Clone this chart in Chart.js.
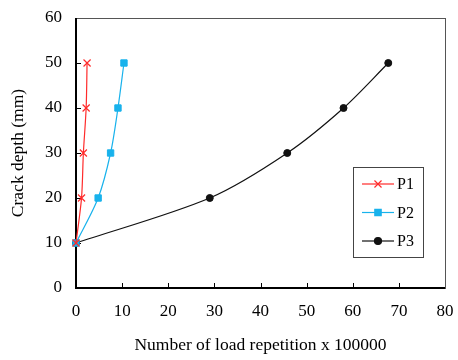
<!DOCTYPE html>
<html>
<head>
<meta charset="utf-8">
<script src="https://cdn.jsdelivr.net/npm/chart.js@4.4.0/dist/chart.umd.min.js"></script>
<style>
  html, body { margin: 0; padding: 0; background: #fff; }
  #wrap { width: 458px; height: 360px; }
</style>
</head>
<body>
<div id="wrap"><canvas id="chart" width="458" height="360"></canvas></div>
<script>
  // Data
  const seriesNames = ['P1', 'P2', 'P3'];
  const crackDepth = [10, 20, 30, 40, 50];
  const p1Reps = [0, 1.2, 1.6, 2.2, 2.4];
  const p2Reps = [0, 4.8, 7.5, 9.1, 10.4];
  const p3Reps = [0, 29, 45.8, 58, 67.7];

  const COLORS = { p1: '#ff2b2b', p2: '#18b2ec', p3: '#111111' };
  const FONT = 'Liberation Serif';

  function toPoints(xs) {
    return xs.map((x, i) => ({ x: x, y: crackDepth[i] }));
  }

  // Inward ticks, frame and the boxed legend inside the plot
  const framePlugin = {
    id: 'frame',
    beforeDatasetsDraw(chart) {
      const ctx = chart.ctx;
      const a = chart.chartArea;
      const xs = chart.scales.x, ys = chart.scales.y;
      ctx.save();
      ctx.strokeStyle = '#000';
      ctx.lineWidth = 1;
      ctx.beginPath();
      xs.ticks.forEach(t => {
        const px = Math.round(xs.getPixelForValue(t.value)) + 0.5;
        ctx.moveTo(px, a.bottom); ctx.lineTo(px, a.bottom - 5);
      });
      ys.ticks.forEach(t => {
        const py = Math.round(ys.getPixelForValue(t.value)) + 0.5;
        ctx.moveTo(a.left, py); ctx.lineTo(a.left + 5, py);
      });
      ctx.stroke();

      ctx.lineWidth = 1;
      ctx.strokeStyle = '#555';
      ctx.strokeRect(a.left + 0.5, a.top + 0.5, a.right - a.left, a.bottom - a.top);
      ctx.lineWidth = 2;
      ctx.strokeStyle = '#000';
      ctx.beginPath();
      ctx.moveTo(a.left, a.top); ctx.lineTo(a.left, a.bottom); ctx.lineTo(a.right, a.bottom);
      ctx.stroke();
      ctx.restore();
    },
    afterDraw(chart) {
      const ctx = chart.ctx;
      ctx.save();
      // legend
      const bx = 353, by = 167, bw = 70, bh = 90;
      ctx.fillStyle = '#fff';
      ctx.fillRect(bx, by, bw, bh);
      ctx.lineWidth = 1;
      ctx.strokeStyle = '#444';
      ctx.strokeRect(bx + 0.5, by + 0.5, bw, bh);
      chart.data.datasets.forEach((ds, i) => {
        const y = by + 17 + i * 28.5;
        ctx.strokeStyle = ds.borderColor;
        ctx.lineWidth = 1.2;
        ctx.beginPath();
        ctx.moveTo(bx + 9, y); ctx.lineTo(bx + 41, y);
        ctx.stroke();
        ctx.fillStyle = ds.pointBackgroundColor;
        ctx.strokeStyle = ds.pointBorderColor;
        Chart.helpers.drawPoint(ctx, {
          pointStyle: ds.pointStyle, radius: ds.pointRadius, borderWidth: 1.2
        }, bx + 25, y);
        ctx.fillStyle = '#000';
        ctx.font = '16px "' + FONT + '"';
        ctx.textBaseline = 'middle';
        ctx.fillText(ds.label, bx + 44, y + 1);
      });
      ctx.restore();
    }
  };

  function noPad(scale) {
    scale.paddingTop = 0;
    scale.paddingBottom = 0;
    scale.paddingLeft = 0;
    scale.paddingRight = 0;
  }

  new Chart(document.getElementById('chart'), {
    type: 'scatter',
    data: {
      datasets: [
        {
          label: seriesNames[0],
          data: toPoints(p1Reps),
          showLine: true,
          clip: false,
          borderColor: COLORS.p1,
          borderWidth: 1.2,
          pointStyle: 'crossRot',
          pointRadius: 5,
          pointBorderWidth: 1.2,
          pointBorderColor: COLORS.p1,
          pointBackgroundColor: COLORS.p1,
          tension: 0.3
        },
        {
          label: seriesNames[1],
          data: toPoints(p2Reps),
          showLine: true,
          clip: false,
          borderColor: COLORS.p2,
          borderWidth: 1.2,
          pointStyle: 'rect',
          pointRadius: 4.5,
          pointBorderWidth: 1,
          pointBorderColor: COLORS.p2,
          pointBackgroundColor: COLORS.p2,
          tension: 0.3
        },
        {
          label: seriesNames[2],
          data: toPoints(p3Reps),
          showLine: true,
          clip: false,
          borderColor: COLORS.p3,
          borderWidth: 1.2,
          pointStyle: 'circle',
          pointRadius: 3.5,
          pointBorderWidth: 1,
          pointBorderColor: COLORS.p3,
          pointBackgroundColor: COLORS.p3,
          tension: 0.3
        }
      ]
    },
    options: {
      responsive: false,
      animation: false,
      layout: { padding: { top: 18, right: 13, left: 0, bottom: 0 } },
      plugins: {
        legend: { display: false },
        tooltip: { enabled: false }
      },
      scales: {
        x: {
          type: 'linear',
          min: 0, max: 80,
          ticks: { stepSize: 10, color: '#000', font: { family: FONT, size: 17 }, padding: 13 },
          grid: { display: false, drawTicks: false },
          border: { display: false },
          title: { display: true, text: 'Number of load repetition x 100000', color: '#000',
                   font: { family: FONT, size: 17.5 }, padding: { top: 8 } },
          afterFit(scale) { scale.height = 72; noPad(scale); }
        },
        y: {
          type: 'linear',
          min: 0, max: 60,
          ticks: { stepSize: 10, color: '#000', font: { family: FONT, size: 17 }, padding: 14 },
          grid: { display: false, drawTicks: false },
          border: { display: false },
          title: { display: true, text: 'Crack depth (mm)', color: '#000',
                   font: { family: FONT, size: 17.5 }, padding: { top: 8, bottom: 0 } },
          afterFit(scale) { scale.width = 76; noPad(scale); }
        }
      }
    },
    plugins: [framePlugin]
  });
</script>
</body>
</html>
